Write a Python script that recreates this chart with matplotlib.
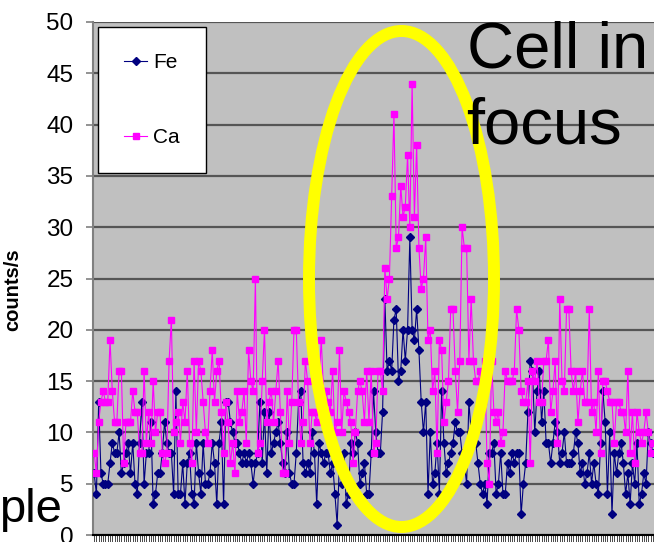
import matplotlib.pyplot as plt
import numpy as np
from matplotlib.patches import Ellipse

# counts/s per scan position
fe = [6, 4, 13, 6, 5, 5, 5, 7, 9, 8, 8, 10, 6, 7, 8, 9, 6, 9, 5, 4,
      9, 13, 5, 8, 8, 11, 3, 4, 6, 6, 8, 11, 9, 8, 8, 4, 14, 4, 4, 7, 3,
      7, 8, 4, 3, 9, 6, 4, 9, 5, 5, 6, 9, 7, 3, 9, 11, 3, 13, 13, 11,
      10, 9, 9, 8, 7, 8, 7, 8, 7, 5, 7, 8, 13, 7, 12, 6, 12, 8, 9, 10, 11, 9, 7,
      6, 10, 6, 5, 5, 8, 13, 14, 7, 6, 7, 6, 10, 8, 3, 9, 8, 7, 8, 8,
      6, 7, 4, 1, 7, 5, 8, 3, 4, 9, 8, 10, 9, 5, 6, 7, 4, 4, 8, 14, 10, 8,
      8, 12, 23, 16, 17, 16, 21, 22, 15, 16, 20, 17, 20, 29, 20, 19, 22, 18, 13, 10,
      13, 4, 10, 5, 6, 9, 4, 14, 9, 6, 7, 8, 9, 11, 10, 10, 8, 7, 5, 13, 10, 10, 9,
      7, 5, 4, 5, 3, 8, 8, 9, 4, 5, 8, 4, 4, 7, 6, 8, 7, 8, 8, 2,
      5, 7, 12, 17, 16, 10, 14, 16, 11, 14, 9, 9, 7, 9, 11, 10, 7, 8, 10, 7,
      7, 7, 8, 10, 9, 6, 7, 5, 6, 8, 5, 7, 5, 4, 9, 14, 11, 4, 10, 2,
      8, 6, 8, 9, 7, 4, 6, 3, 7, 5, 9, 3, 4, 6, 5, 10, 9, 8]

ca = [8, 6, 11, 13, 14, 13, 13, 19, 14, 11, 11, 16, 16, 7, 11, 11, 11, 14, 12, 12,
      8, 8, 16, 9, 12, 9, 15, 10, 12, 12, 8, 7, 8, 17, 21, 10, 11, 12, 9, 13, 11,
      16, 9, 7, 17, 10, 17, 16, 13, 10, 9, 14, 18, 13, 16, 17, 12, 8, 13, 11, 7,
      9, 6, 14, 11, 12, 14, 9, 18, 15, 14, 25, 8, 9, 15, 20, 11, 13, 14, 11, 14, 17, 12, 6,
      6, 14, 9, 13, 20, 20, 13, 9, 11, 17, 15, 9, 12, 12, 11, 15, 19, 14, 14, 13,
      12, 16, 10, 11, 18, 10, 14, 13, 12, 11, 7, 10, 14, 15, 14, 11, 16, 11, 16, 8, 9, 16,
      16, 14, 26, 23, 25, 33, 41, 28, 29, 34, 31, 32, 37, 30, 44, 31, 38, 28, 24, 25,
      29, 19, 20, 14, 16, 8, 19, 18, 11, 13, 15, 22, 22, 16, 12, 17, 30, 28, 28, 17, 23, 17, 15,
      15, 16, 13, 17, 7, 5, 17, 12, 11, 12, 9, 10, 16, 15, 15, 15, 16, 22, 20, 14,
      13, 13, 15, 7, 16, 15, 17, 13, 13, 17, 17, 19, 12, 14, 17, 9, 23, 15, 14, 22,
      22, 16, 14, 16, 11, 14, 16, 13, 13, 22, 12, 13, 10, 16, 8, 15, 15, 14, 13, 13,
      9, 13, 13, 12, 12, 10, 16, 8, 12, 7, 12, 10, 9, 10, 12, 10, 8, 9]

y_ticks = list(range(0, 55, 5))

plt.rcParams['font.family'] = ['Liberation Sans', 'DejaVu Sans']

W, H = 654, 542
fig = plt.figure(figsize=(W / 100, H / 100), dpi=100)
ax = fig.add_axes([93 / W, 7 / H, 561 / W, 513 / H])
ax.set_facecolor('#c0c0c0')

x = np.arange(len(fe))
ax.plot(x, fe, color='#000080', lw=0.8, marker='D', ms=4.2,
        mec='#000080', mfc='#000080', label='Fe', zorder=3)
ax.plot(x, ca, color='#ff00ff', lw=0.8, marker='s', ms=4.8,
        mec='#ff00ff', mfc='#ff00ff', label='Ca', zorder=3)

ax.set_xlim(-0.5, len(fe) - 0.5)
ax.set_ylim(0, 50)
ax.set_yticks(y_ticks)
ax.set_xticks(x)
ax.set_xticklabels([])
ax.tick_params(axis='y', labelsize=17.5, length=5, width=1.2, color='#808080', pad=9)
ax.tick_params(axis='x', length=5, width=0.5, color='black', direction='out')
ax.yaxis.grid(True, color='#555555', lw=1.6)
ax.set_axisbelow(True)
for s in ['top', 'right']:
    ax.spines[s].set_visible(False)
ax.spines['left'].set_color('#808080')
ax.spines['left'].set_linewidth(1.5)
ax.spines['bottom'].set_color('black')
ax.spines['bottom'].set_linewidth(1.5)

ax.set_ylabel('counts/s', fontsize=14.5, fontweight='bold')
ax.yaxis.set_label_coords((22 - 93) / 561, (535 - 290) / 513)

leg = ax.legend(loc='upper left', bbox_to_anchor=((98 - 93) / 561, (535 - 27) / 513),
                borderaxespad=0, fontsize=15, labelspacing=2.7, handlelength=1.1,
                handletextpad=0.3, borderpad=1.25, fancybox=False, framealpha=1,
                edgecolor='black')
leg.get_frame().set_linewidth(1.0)

# yellow highlight around the peak
ring = Ellipse((401.5 / W, (H - 279) / H), 185 / W, 496 / H, transform=fig.transFigure,
               fill=False, ec='#ffff00', lw=8.6, zorder=5)
fig.add_artist(ring)

fig.text(467 / W, (H - 67) / H, 'Cell in', fontsize=47, va='baseline', ha='left', zorder=6)
fig.text(466 / W, (H - 143) / H, 'focus', fontsize=47, va='baseline', ha='left', zorder=6)
fig.text(-1 / W, (H - 522) / H, 'ple', fontsize=34, va='baseline', ha='left', zorder=6)

fig.savefig('out.png', dpi=100)
